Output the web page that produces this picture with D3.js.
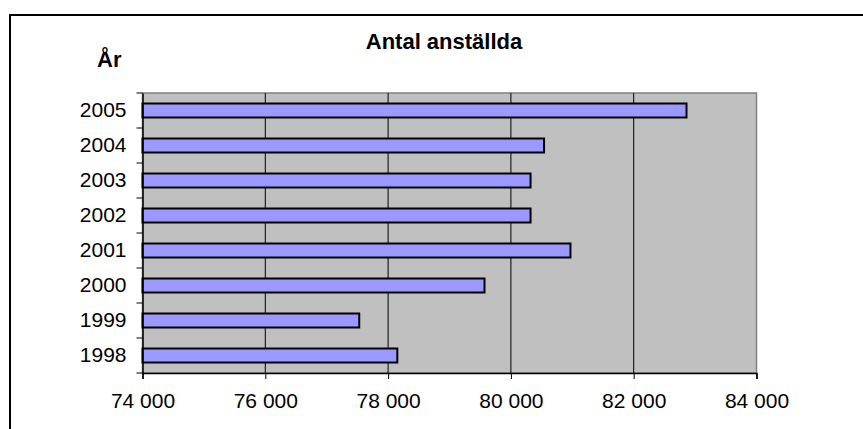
<!DOCTYPE html>
<html>
<head>
<meta charset="utf-8">
<script src="https://cdn.jsdelivr.net/npm/d3@7"></script>
<style>
  html, body { margin: 0; padding: 0; background: #fff; }
  svg { display: block; font-family: "Liberation Sans", Arial, sans-serif; }
</style>
</head>
<body>
<svg id="chart" width="863" height="429"></svg>
<script>
const years = ["1998", "1999", "2000", "2001", "2002", "2003", "2004", "2005"];
const employees = [78150, 77530, 79570, 80970, 80320, 80320, 80540, 82860];
const xTicks = [74000, 76000, 78000, 80000, 82000, 84000];
const title = "Antal anställda";
const yAxisTitle = "År";

const svg = d3.select("#chart");
const pLeft = 142.5, pRight = 756.5, pTop = 93, pBottom = 373;

const locale = d3.formatLocale({ decimal: ",", thousands: " ", grouping: [3], currency: ["", " kr"] });
const fmt = locale.format(",d");

const x = d3.scaleLinear().domain([74000, 84000]).range([pLeft, pRight]);
const y = d3.scaleBand().domain(years).range([pBottom, pTop]).paddingInner(0.6).paddingOuter(0.3);

// outer frame
svg.append("rect").attr("x", 10).attr("y", 15).attr("width", 900).attr("height", 600)
  .attr("fill", "#fff").attr("stroke", "#000").attr("stroke-width", 2);

// plot area
svg.append("rect").attr("x", pLeft).attr("y", pTop).attr("width", pRight - pLeft).attr("height", pBottom - pTop)
  .attr("fill", "#c0c0c0").attr("stroke", "#808080").attr("stroke-width", 1.5);

// gridlines
svg.append("g").selectAll("line").data(xTicks.slice(1, -1)).join("line")
  .attr("x1", d => x(d)).attr("x2", d => x(d)).attr("y1", pTop).attr("y2", pBottom)
  .attr("stroke", "#000").attr("stroke-width", 1);

// bars
svg.append("g").selectAll("rect").data(years).join("rect")
  .attr("x", x(74000))
  .attr("y", d => y(d))
  .attr("width", (d, i) => x(employees[i]) - x(74000))
  .attr("height", y.bandwidth())
  .attr("fill", "#9999ff").attr("stroke", "#000").attr("stroke-width", 2);

// x axis
const xAxis = svg.append("g").attr("transform", `translate(0,${pBottom})`)
  .call(d3.axisBottom(x).tickValues(xTicks).tickFormat(fmt).tickSize(6).tickPadding(14));
xAxis.select(".domain").attr("stroke", "#000").attr("stroke-width", 1.5);
xAxis.selectAll(".tick line").attr("stroke", "#000");
xAxis.selectAll("text").attr("font-size", 21).attr("fill", "#000")
  .attr("font-family", "'Liberation Sans', Arial, sans-serif");

// y axis
const yAxis = svg.append("g").attr("transform", `translate(${pLeft},0)`)
  .call(d3.axisLeft(y).tickSize(0).tickPadding(16));
yAxis.select(".domain").attr("stroke", "#000").attr("stroke-width", 1.5);
yAxis.selectAll("text").attr("font-size", 21).attr("fill", "#000")
  .attr("font-family", "'Liberation Sans', Arial, sans-serif");
// category boundary ticks
const step = y.step();
const bounds = d3.range(years.length + 1).map(i => pBottom - i * step);
svg.append("g").selectAll("line").data(bounds).join("line")
  .attr("x1", pLeft - 6).attr("x2", pLeft).attr("y1", d => d).attr("y2", d => d)
  .attr("stroke", "#000").attr("stroke-width", 1);

// titles
svg.append("text").attr("x", 444).attr("y", 49).attr("text-anchor", "middle")
  .attr("font-size", 22).attr("font-weight", "bold").text(title);
svg.append("text").attr("x", 97).attr("y", 67)
  .attr("font-size", 22).attr("font-weight", "bold").text(yAxisTitle);
</script>
</body>
</html>
